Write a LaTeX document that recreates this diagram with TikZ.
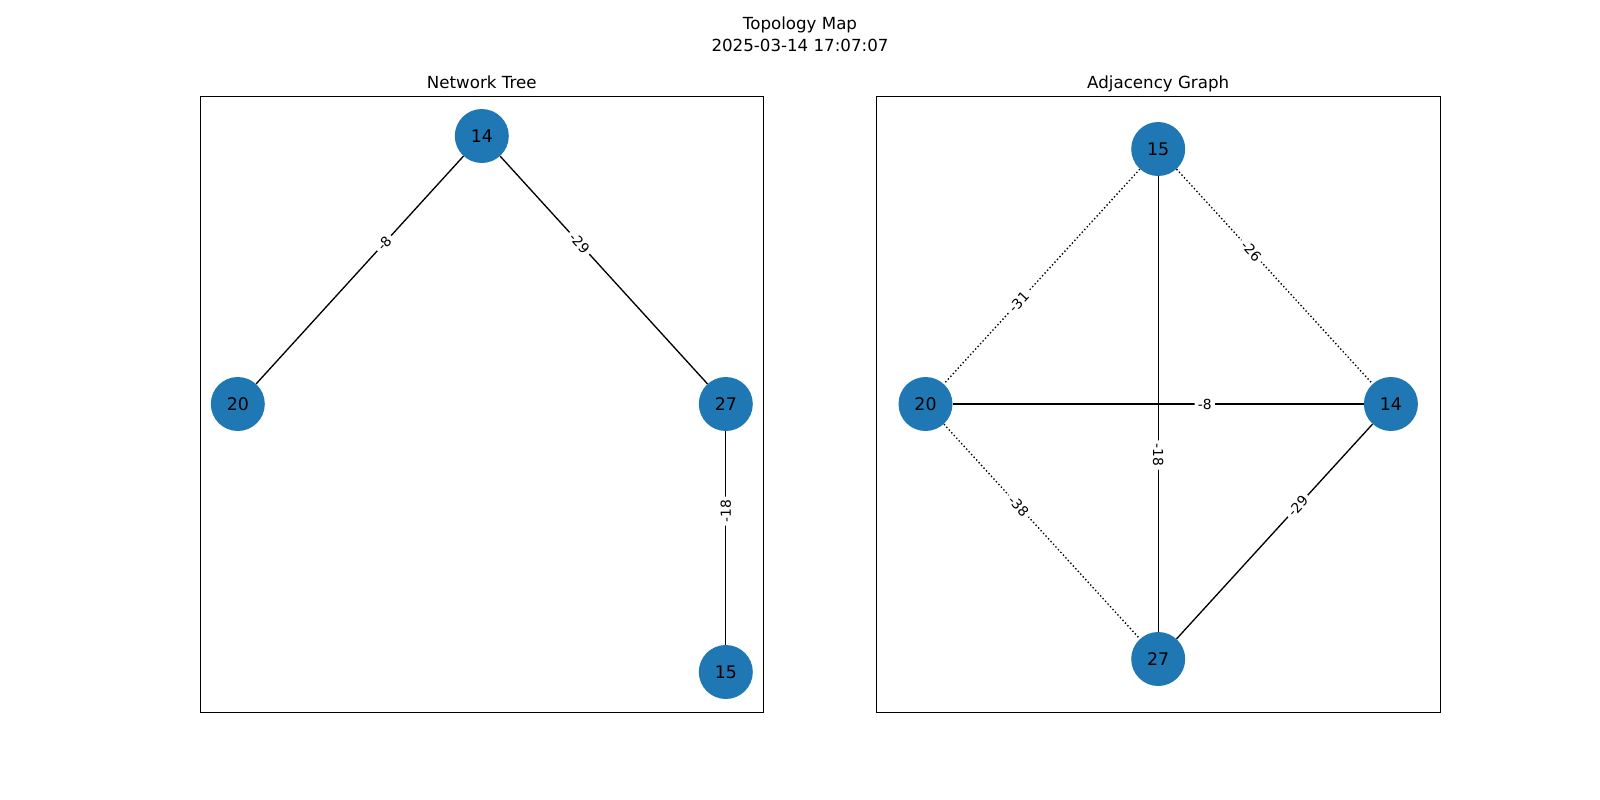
\documentclass[tikz,border=0pt]{standalone}
\usepackage{fontspec}
\setmainfont{DejaVu Sans}
\usetikzlibrary{calc}
\definecolor{nodeblue}{HTML}{1F78B4}
\tikzset{
  vtx/.style={circle, fill=nodeblue, draw=none, minimum size=40.5pt, inner sep=0pt, font=\fontsize{13pt}{15pt}\selectfont, text=black},
  edge/.style={line width=1.0pt, black},
  dotedge/.style={line width=1.0pt, black, dash pattern=on 1.04pt off 1.72pt},
  lbl/.style={fill=white, inner sep=2.4pt, font=\fontsize{10.4pt}{12pt}\selectfont, rounded corners=2pt},
  frame/.style={line width=0.7pt, black},
  ttl/.style={font=\fontsize{12.5pt}{16pt}\selectfont, inner sep=0pt, align=center}
}
\begin{document}
\begin{tikzpicture}[x=0.75pt, y=-0.75pt]
\useasboundingbox (0,0) rectangle (1600,800);
% suptitle
\node[ttl, anchor=north] (sup) at (800,17) {Topology Map\\2025-03-14 17:07:07};
% axes titles
\node[ttl, anchor=base] (t1) at (481.8,88) {Network Tree};
\node[ttl, anchor=base] (t2) at (1158.2,88) {Adjacency Graph};
% frames
\draw[frame] (200,96) rectangle (763.6,712);
\draw[frame] (876.4,96) rectangle (1440,712);
% left nodes
\node[vtx] (L14) at (481.8,136) {14};
\node[vtx] (L20) at (237.8,404) {20};
\node[vtx] (L27) at (725.8,404) {27};
\node[vtx] (L15) at (725.8,672) {15};
% right nodes
\node[vtx] (R15) at (1158.2,149) {15};
\node[vtx] (R20) at (925.5,404) {20};
\node[vtx] (R14) at (1390.9,404) {14};
\node[vtx] (R27) at (1158.2,659) {27};
% left edges
\draw[edge] (L14) -- (L20);
\draw[edge] (L14) -- (L27);
\draw[edge] (L27) -- (L15);
% right edges
\draw[dotedge] (R15) -- (R20);
\draw[dotedge] (R15) -- (R14);
\draw[edge] (R15) -- (R27);
\draw[edge] (R20) -- (R14);
\draw[dotedge] (R20) -- (R27);
\draw[edge] (R27) -- (R14);
% left labels
\node[lbl, rotate=47.7] (l1) at ($(L14)!0.4!(L20)$) {-8};
\node[lbl, rotate=-47.7] (l2) at ($(L14)!0.4!(L27)$) {-29};
\node[lbl, rotate=90] (l3) at ($(L27)!0.4!(L15)$) {-18};
% right labels
\node[lbl, rotate=47.6] (r1) at ($(R20)!0.4!(R15)$) {-31};
\node[lbl, rotate=-47.6] (r2) at ($(R15)!0.4!(R14)$) {-26};
\node[lbl] (r3) at ($(R14)!0.4!(R20)$) {-8};
\node[lbl, rotate=-90] (r4) at ($(R27)!0.4!(R15)$) {-18};
\node[lbl, rotate=-47.6] (r5) at ($(R20)!0.4!(R27)$) {-38};
\node[lbl, rotate=47.6] (r6) at ($(R14)!0.4!(R27)$) {-29};
\end{tikzpicture}
\end{document}
